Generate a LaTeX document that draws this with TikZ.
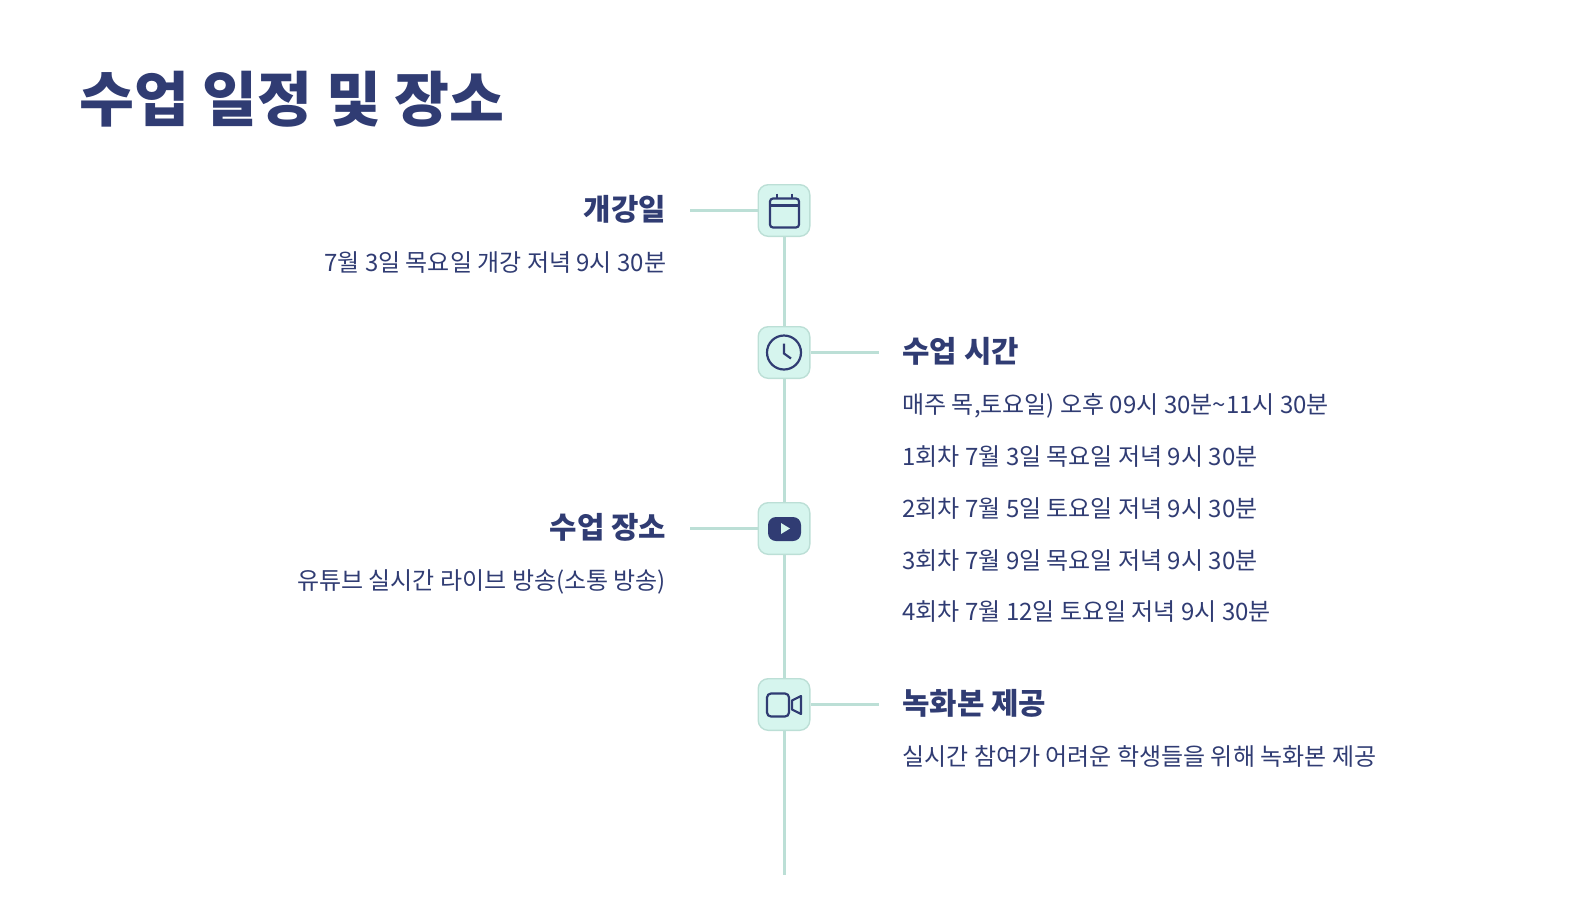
\documentclass[tikz,border=0pt]{standalone}
\usepackage{fontspec}
\setmainfont{Noto Sans CJK KR}
\usetikzlibrary{calc}
\definecolor{Navy}{RGB}{48, 60, 115}
\definecolor{Mint}{RGB}{214, 245, 238}
\definecolor{MintLine}{RGB}{188, 223, 214}
\tikzset{
    iconbox/.style = {draw = MintLine, fill = Mint, line width = 0.7pt, rounded corners = 5pt,
        minimum width = 25.8pt, minimum height = 25.8pt, inner sep = 0pt},
    stem/.style = {draw = MintLine, line width = 1.5pt},
    icon/.style = {draw = Navy, line width = 1.1pt},
    head/.style = {text = Navy, font = \fontsize{14.9}{16}\selectfont\bfseries, inner sep = 0pt},
    body/.style = {text = Navy, font = \fontsize{12}{14}\selectfont, inner sep = 0pt}
}
\begin{document}
\begin{tikzpicture}[x=0.5pt, y=-0.5pt]
    \useasboundingbox (0,0) rectangle (1570,901);
    % Title
    \node[anchor = west, text = Navy, inner sep = 0pt, font = \fontsize{29.85}{34}\selectfont\bfseries]
    (title) at (79,99) {수업 일정 및 장소};
    % Free ends
    \coordinate (bottom) at (784,875);
    \coordinate (stubStart) at (690,210.5);
    \coordinate (stubTime) at (879,352.5);
    \coordinate (stubPlace) at (690,528.5);
    \coordinate (stubVideo) at (879,704.5);
    % Stems, under the boxes
    \node[iconbox] (boxStart) at (784,210.5) {};
    \node[iconbox] (boxTime) at (784,352.5) {};
    \node[iconbox] (boxPlace) at (784,528.5) {};
    \node[iconbox] (boxVideo) at (784,704.5) {};
    \draw[stem]
    (boxStart) to (boxTime)
    (boxTime) to (boxPlace)
    (boxPlace) to (boxVideo)
    (boxVideo) to (bottom)
    (boxStart) to (stubStart)
    (boxTime) to (stubTime)
    (boxPlace) to (stubPlace)
    (boxVideo) to (stubVideo)
    ;
    % Calendar
    \begin{scope}[shift = {(boxStart.center)}]
        \draw[icon, rounded corners = 1.5pt] (-14,-12) rectangle (15,17);
        \draw[icon] (-14,-5) to (15,-5) (-7,-17) to (-7,-12) (8,-17) to (8,-12);
    \end{scope}
    % Clock
    \begin{scope}[shift = {(boxTime.center)}]
        \draw[icon] (0,0) circle (17);
        \draw[icon] (0,-9) to (0,1) to (7,6);
    \end{scope}
    % Play button
    \begin{scope}[shift = {(boxPlace.center)}]
        \fill[Navy, rounded corners = 4pt] (-16,-11.5) rectangle (17,12.5);
        \fill[Mint] (-3,-5.5) to (6,0) to (-3,5.5) to cycle;
    \end{scope}
    % Camera
    \begin{scope}[shift = {(boxVideo.center)}]
        \draw[icon, rounded corners = 2pt] (-17,-11) rectangle (5,12);
        \draw[icon, line join = round] (8,-4) to (17,-8.5) to (17,9.5) to (8,5) to cycle;
    \end{scope}
    % Left side
    \node[head, anchor = east] (startHead) at (666.5,209.5) {개강일};
    \node[body, anchor = east] (startBody) at (666.5,263) {7월 3일 목요일 개강 저녁 9시 30분};
    \node[head, anchor = east] (placeHead) at (666.5,527.5) {수업 장소};
    \node[body, anchor = east] (placeBody) at (666.5,581.5) {유튜브 실시간 라이브 방송(소통 방송)};
    % Right side
    \node[head, anchor = west] (timeHead) at (902,351.5) {수업 시간};
    \node[body, anchor = west] (timeBody) at (902,405.5) {매주 목,토요일) 오후 09시 30분\textasciitilde 11시 30분};
    \node[body, anchor = west] (roundA) at (902,456.5) {1회차 7월 3일 목요일 저녁 9시 30분};
    \node[body, anchor = west] (roundB) at (902,508.5) {2회차 7월 5일 토요일 저녁 9시 30분};
    \node[body, anchor = west] (roundC) at (902,560.5) {3회차 7월 9일 목요일 저녁 9시 30분};
    \node[body, anchor = west] (roundD) at (902,612) {4회차 7월 12일 토요일 저녁 9시 30분};
    \node[head, anchor = west] (videoHead) at (902,703.5) {녹화본 제공};
    \node[body, anchor = west] (videoBody) at (902,756.5) {실시간 참여가 어려운 학생들을 위해 녹화본 제공};
\end{tikzpicture}
\end{document}
